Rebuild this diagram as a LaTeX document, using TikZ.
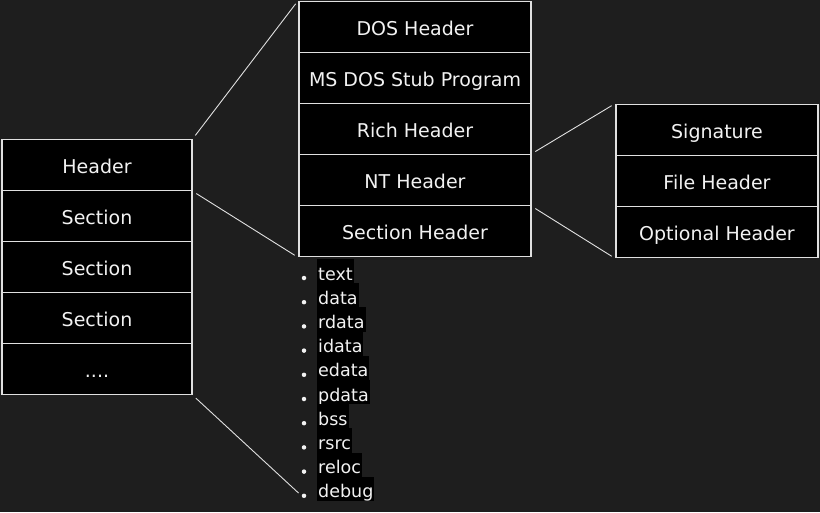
\documentclass[tikz,border=0pt]{standalone}
\usepackage{fontspec}
\setmainfont{DejaVu Sans}
\definecolor{bg}{HTML}{1E1E1E}
\definecolor{edge}{HTML}{E0E0E0}
\definecolor{ink}{HTML}{F2F2F2}
\begin{document}
\begin{tikzpicture}[x=1pt,y=-1pt,
  cell/.style={draw=edge,fill=black,text=ink,line width=1.8pt,inner sep=0pt,
    minimum height=51pt,text height=17pt,text depth=0pt,
    font=\fontsize{19}{22}\selectfont},
  lcell/.style={cell,minimum width=190pt},
  mcell/.style={cell,minimum width=232pt},
  rcell/.style={cell,minimum width=202pt},
  link/.style={draw=edge,line width=0.9pt,shorten <=4pt,shorten >=4pt},
  item/.style={fill=black,text=ink,anchor=west,inner xsep=1pt,inner ysep=0pt,
    minimum height=24.2pt,text height=20pt,text depth=2pt,
    font=\fontsize{17.5}{20}\selectfont},
  dot/.style={fill=ink,circle,inner sep=0pt,minimum size=4.5pt}]
\fill[bg] (0,0) rectangle (820,512);
\useasboundingbox (0,0) rectangle (820,512);
% left stack
\node[lcell] (hdr) at (97,165) {Header};
\node[lcell] (s1) at (97,216) {Section};
\node[lcell] (s2) at (97,267) {Section};
\node[lcell] (s3) at (97,318) {Section};
\node[lcell] (more) at (97,369) {....};
% middle stack
\node[mcell] (dos) at (415,27) {DOS Header};
\node[mcell] (stub) at (415,78) {MS DOS Stub Program};
\node[mcell] (rich) at (415,129) {Rich Header};
\node[mcell] (nt) at (415,180) {NT Header};
\node[mcell] (sech) at (415,231) {Section Header};
% right stack
\node[rcell] (sig) at (717,130) {Signature};
\node[rcell] (fh) at (717,181) {File Header};
\node[rcell] (opt) at (717,232) {Optional Header};
% section list
\foreach \t [count=\i] in {text,data,rdata,idata,edata,pdata,bss,rsrc,reloc,debug}{
  \node[item] (l\i) at (317,{271+24.2*(\i-1)}) {\t};
  \node[dot] (b\i) at (304,{278+24.2*(\i-1)}) {};
}
% connectors
\draw[link] (hdr.north east) -- (dos.north west);
\draw[link] (hdr.south east) -- (sech.south west);
\draw[link] (more.south east) -- (b10.west);
\draw[link] (nt.north east) -- (sig.north west);
\draw[link] (nt.south east) -- (opt.south west);
\end{tikzpicture}
\end{document}
